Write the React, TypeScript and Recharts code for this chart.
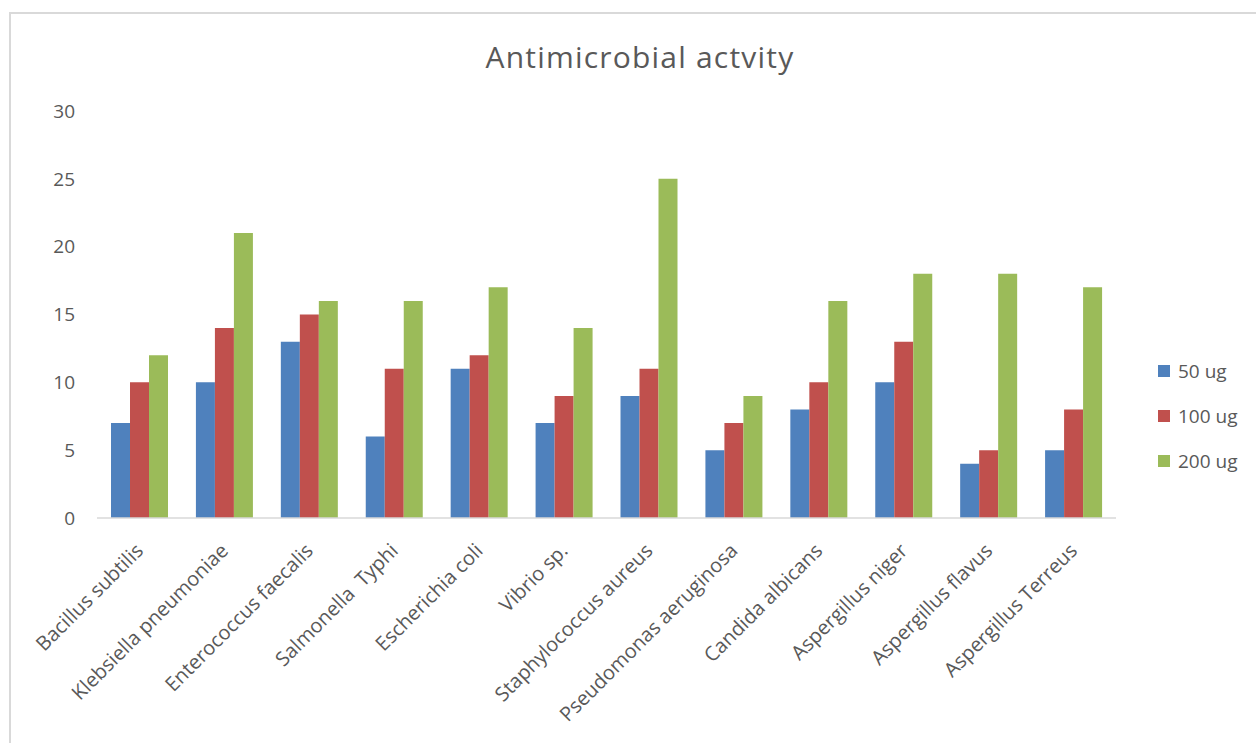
import { BarChart, Bar, XAxis, YAxis, Legend } from 'recharts';

const organisms = [
  'Bacillus subtilis',
  'Klebsiella pneumoniae',
  'Enterococcus faecalis',
  'Salmonella  Typhi',
  'Escherichia coli',
  'Vibrio sp.',
  'Staphylococcus aureus',
  'Pseudomonas aeruginosa',
  'Candida albicans',
  'Aspergillus niger',
  'Aspergillus flavus',
  'Aspergillus Terreus',
];

const dose50 = [7, 10, 13, 6, 11, 7, 9, 5, 8, 10, 4, 5];
const dose100 = [10, 14, 15, 11, 12, 9, 11, 7, 10, 13, 5, 8];
const dose200 = [12, 21, 16, 16, 17, 14, 25, 9, 16, 18, 18, 17];

const yTicks = [0, 5, 10, 15, 20, 25, 30];

const series = [
  { key: 'd50', name: '50 ug', color: '#4f81bd' },
  { key: 'd100', name: '100 ug', color: '#c0504d' },
  { key: 'd200', name: '200 ug', color: '#9bbb59' },
];

const data = organisms.map((name, i) => ({
  name,
  d50: dose50[i],
  d100: dose100[i],
  d200: dose200[i],
}));

const FONT = '"Open Sans", Lato, sans-serif';

// category names run up-right at 45 degrees, ending just under the group
const AngledTick = (props: { x?: number; y?: number; payload?: { value: string } }) => {
  const { x = 0, y = 0, payload } = props;
  const tx = x + 5;
  const ty = y + 26;
  return (
    <text
      x={tx}
      y={ty}
      transform={`rotate(-45, ${tx}, ${ty})`}
      textAnchor="end"
      fill="#595959"
      fontSize={20}
      fontFamily={FONT}
      style={{ whiteSpace: 'pre' }}
    >
      {payload?.value}
    </text>
  );
};

const SideLegend = () => (
  <div style={{ fontFamily: FONT, fontSize: 19, color: '#595959' }}>
    {series.map((s) => (
      <div key={s.key} style={{ display: 'flex', alignItems: 'center', height: 45 }}>
        <span
          style={{ width: 12, height: 12, background: s.color, display: 'inline-block', marginRight: 8 }}
        />
        {s.name}
      </div>
    ))}
  </div>
);

export default function App() {
  return (
    <div
      style={{
        position: 'absolute',
        left: 0,
        top: 0,
        width: 1256,
        height: 743,
        background: '#fff',
        overflow: 'hidden',
      }}
    >
      <div
        style={{
          position: 'absolute',
          left: 9,
          top: 12,
          width: 1300,
          height: 800,
          borderTop: '2px solid #d9d9d9',
          borderLeft: '2px solid #d9d9d9',
        }}
      />
      <div
        style={{
          position: 'absolute',
          left: 0,
          width: 1280,
          top: 36,
          textAlign: 'center',
          fontFamily: FONT,
          fontSize: 30,
          letterSpacing: 1.2,
          color: '#595959',
        }}
      >
        Antimicrobial actvity
      </div>
      <div style={{ position: 'absolute', left: 0, top: 0 }}>
        <BarChart
          width={1256}
          height={743}
          data={data}
          margin={{ top: 111, right: 40, left: 37, bottom: 75 }}
          barGap={0}
          barSize={19}
        >
          <XAxis
            dataKey="name"
            interval={0}
            height={150}
            tick={<AngledTick />}
            tickLine={false}
            axisLine={{ stroke: '#d9d9d9', strokeWidth: 1.5 }}
          />
          <YAxis
            width={60}
            domain={[0, 30]}
            ticks={yTicks}
            axisLine={false}
            tickLine={false}
            tickMargin={16}
            tick={{ fill: '#595959', fontSize: 19, fontFamily: FONT }}
          />
          <Legend
            layout="vertical"
            align="right"
            verticalAlign="top"
            wrapperStyle={{ left: 1158, top: 348, width: 100 }}
            content={<SideLegend />}
          />
          {series.map((s) => (
            <Bar key={s.key} dataKey={s.key} name={s.name} fill={s.color} isAnimationActive={false} />
          ))}
        </BarChart>
      </div>
    </div>
  );
}
